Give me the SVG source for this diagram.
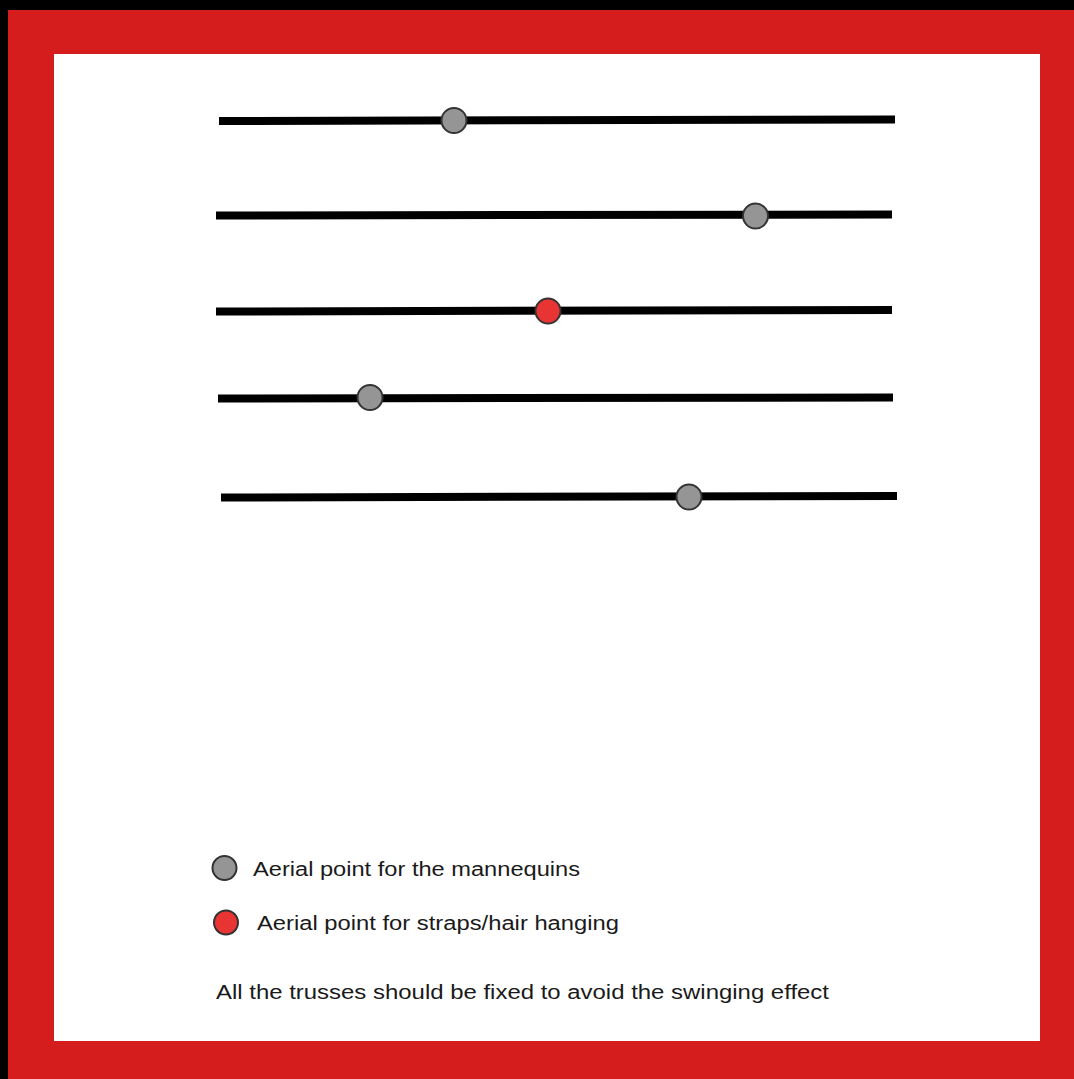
<svg xmlns="http://www.w3.org/2000/svg" width="1074" height="1079" viewBox="0 0 1074 1079">
<style>
.truss{stroke:#000;stroke-width:8;fill:none}
.pt{stroke:#333;stroke-width:2}
.gray{fill:#959595}
.red{fill:#e93434}
.lbl{font-family:"Liberation Sans",Arial,sans-serif;font-size:20px;fill:#1a1a1a}
</style>
<rect x="0" y="0" width="1074" height="1079" fill="#000"/>
<rect x="8" y="10" width="1066" height="1069" fill="#d61d1e"/>
<rect x="54" y="54" width="986" height="987" fill="#fff"/>
<g id="connectors">
<line class="truss" x1="219" y1="121" x2="895" y2="119.5"/>
<line class="truss" x1="216" y1="215.5" x2="892" y2="214.5"/>
<line class="truss" x1="216" y1="311.5" x2="892" y2="310"/>
<line class="truss" x1="218" y1="398.5" x2="893" y2="397.5"/>
<line class="truss" x1="221" y1="497.5" x2="897" y2="496"/>
</g>
<g id="point1"><circle class="pt gray" cx="454" cy="120.5" r="12.5"/></g>
<g id="point2"><circle class="pt gray" cx="755.5" cy="216" r="12.5"/></g>
<g id="point3"><circle class="pt red" cx="548" cy="311" r="12.5"/></g>
<g id="point4"><circle class="pt gray" cx="370" cy="397.5" r="12.5"/></g>
<g id="point5"><circle class="pt gray" cx="689" cy="497" r="12.5"/></g>
<g id="legend-gray">
<circle class="pt gray" cx="224.5" cy="868" r="12"/>
<text class="lbl" x="253" y="876" textLength="327" lengthAdjust="spacingAndGlyphs">Aerial point for the mannequins</text>
</g>
<g id="legend-red">
<circle class="pt red" cx="226" cy="922.5" r="12"/>
<text class="lbl" x="257" y="930" textLength="362" lengthAdjust="spacingAndGlyphs">Aerial point for straps/hair hanging</text>
</g>
<g id="note">
<text class="lbl" x="216" y="999" textLength="613" lengthAdjust="spacingAndGlyphs">All the trusses should be fixed to avoid the swinging effect</text>
</g>
</svg>
